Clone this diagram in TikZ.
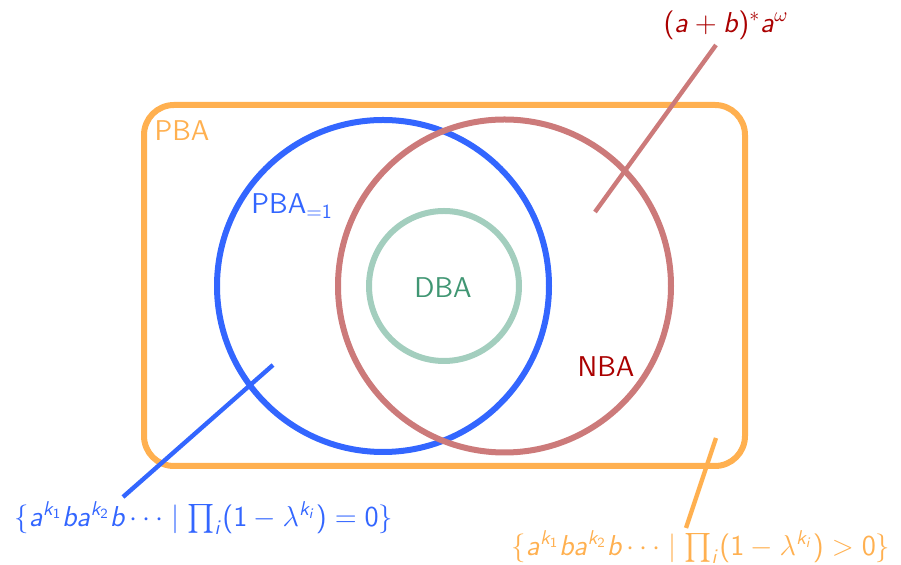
\documentclass[tikz,border=0pt]{standalone}
\usepackage{amsmath}
\DeclareSymbolFont{sfup}{OT1}{cmss}{m}{n}
\DeclareSymbolFont{sfsl}{OT1}{cmss}{m}{sl}
\DeclareMathSymbol{a}{\mathalpha}{sfsl}{`a}
\DeclareMathSymbol{b}{\mathalpha}{sfsl}{`b}
\DeclareMathSymbol{i}{\mathalpha}{sfsl}{`i}
\DeclareMathSymbol{k}{\mathalpha}{sfsl}{`k}
\DeclareMathSymbol{0}{\mathalpha}{sfup}{`0}
\DeclareMathSymbol{1}{\mathalpha}{sfup}{`1}
\DeclareMathSymbol{2}{\mathalpha}{sfup}{`2}
\DeclareMathSymbol{(}{\mathopen}{sfup}{`(}
\DeclareMathSymbol{)}{\mathclose}{sfup}{`)}
\DeclareMathSymbol{=}{\mathrel}{sfup}{`=}
\DeclareMathSymbol{+}{\mathbin}{sfup}{`+}
\definecolor{pbaor}{RGB}{255,176,80}
\definecolor{pbablue}{RGB}{51,102,255}
\definecolor{nbared}{RGB}{204,122,122}
\definecolor{nbatext}{RGB}{170,0,0}
\definecolor{dbaline}{RGB}{163,206,190}
\definecolor{dbatext}{RGB}{64,150,115}
\tikzset{
  setcircle/.style={draw, circle, line width=3pt, inner sep=0pt},
  pointer/.style={line width=2.2pt},
  lbl/.style={inner sep=0pt, font=\fontsize{14.3}{17}\selectfont\sffamily}
}
\begin{document}
\begin{tikzpicture}[x=0.5pt, y=-0.5pt]
\useasboundingbox (0,0) rectangle (901,565);
% PBA box
\node[draw=pbaor, line width=3pt, rounded corners=15pt, minimum width=300.5pt, minimum height=180.5pt, inner sep=0pt] (pba) at (444.5,285.5) {};
% circles
\node[setcircle, draw=pbablue, minimum size=166pt] (pbaone) at (383,286) {};
\node[setcircle, draw=nbared, minimum size=166.5pt] (nba) at (504.5,286) {};
\node[setcircle, draw=dbaline, minimum size=75pt] (dba) at (444,286) {};
% labels
\node[lbl, text=pbaor] (pbalbl) at (182,131) {PBA};
\node[lbl, text=pbablue, anchor=base west] (pbaonelbl) at (251,214) {PBA$_{=1}$};
\node[lbl, text=dbatext] (dbalbl) at (443,288) {DBA};
\node[lbl, text=nbatext] (nbalbl) at (606,367) {NBA};
\node[lbl, text=nbatext] (nbaex) at (726,25) {$(a+b)^{*}a^{\omega}$};
\node[lbl, text=pbablue] (pbaoneex) at (204,518) {$\{a^{k_1}ba^{k_2}b\cdots \mid \prod_i(1-\lambda^{k_i})=0\}$};
\node[lbl, text=pbaor] (pbaex) at (701,547) {$\{a^{k_1}ba^{k_2}b\cdots \mid \prod_i(1-\lambda^{k_i})>0\}$};
% pointer ends
\coordinate (nbain) at (595,212);
\coordinate (nbaout) at (716,45);
\coordinate (pbaonein) at (273,365);
\coordinate (pbaoneout) at (123,497);
\coordinate (pbain) at (716,438);
\coordinate (pbaout) at (686,528);
\draw[pointer, draw=nbared] (nbain) -- (nbaout);
\draw[pointer, draw=pbablue] (pbaonein) -- (pbaoneout);
\draw[pointer, draw=pbaor] (pbain) -- (pbaout);
\end{tikzpicture}
\end{document}
